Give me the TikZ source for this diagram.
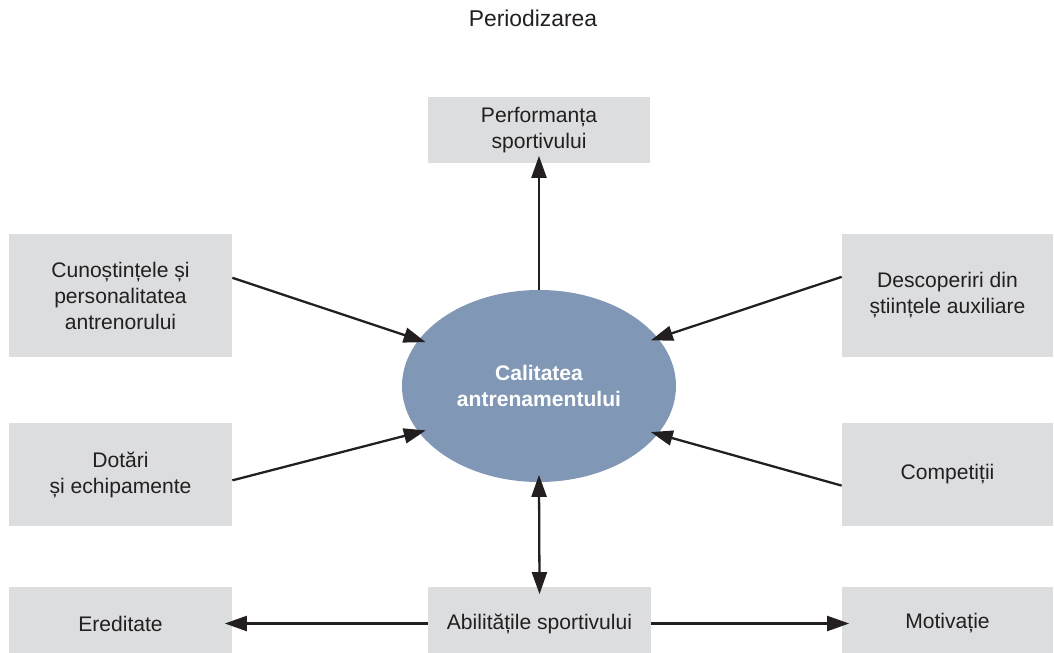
\documentclass[tikz,border=0pt]{standalone}
\usepackage{fontspec}
\setmainfont{Liberation Sans}
\usepackage{xcolor}
\usetikzlibrary{shapes, arrows.meta, positioning, calc}
\definecolor{boxgray}{HTML}{DCDDDF}
\definecolor{ellblue}{HTML}{8197B6}
\definecolor{inkgray}{HTML}{231F20}

\begin{document}
\begin{tikzpicture}[
		box/.style={rectangle, fill=boxgray, text=inkgray, align=center, inner sep=0pt, font=\fontsize{12}{14.8}\selectfont},
		arr/.style={-{Triangle[length=4.4mm, width=3mm]}, line width=1.3pt, draw=inkgray, shorten >=-1.5mm},
		arrboth/.style={{Triangle[length=4.4mm, width=3mm]}-{Triangle[length=4.4mm, width=3mm]}, line width=1.3pt, draw=inkgray, shorten >=-1.5mm, shorten <=-1.5mm},
	]
		\useasboundingbox (0,0) rectangle (21.08,13.04);

		\node[text=inkgray, font=\fontsize{13}{15}\selectfont] (title) at (10.66,12.68) {Periodizarea};

		\node[box, minimum width=4.44cm, minimum height=1.32cm] (perf) at (10.78,10.44) {Performanța\\sportivului};
		\node[ellipse, fill=ellblue, text=white, align=center, inner sep=0pt, minimum width=5.48cm, minimum height=3.84cm, font=\bfseries\fontsize{12}{15.3}\selectfont] (ell) at (10.78,5.32) {Calitatea\\antrenamentului};

		\node[box, minimum width=4.46cm, minimum height=2.46cm] (cun) at (2.41,7.13) {Cunoștințele și\\personalitatea\\antrenorului};
		\node[box, minimum width=4.22cm, minimum height=2.46cm] (desc) at (18.95,7.13) {Descoperiri din\\științele auxiliare};
		\node[box, minimum width=4.46cm, minimum height=2.06cm] (dot) at (2.41,3.55) {Dotări\\și echipamente};
		\node[box, minimum width=4.22cm, minimum height=2.06cm] (comp) at (18.95,3.55) {Competiții};

		% bottom row runs off the lower edge
		\node[box, minimum width=4.46cm, minimum height=1.46cm] (ered) at (2.41,0.57) {Ereditate};
		\node[box, minimum width=4.46cm, minimum height=1.46cm] (abil) at (10.79,0.57) {Abilitățile sportivului};
		\node[box, minimum width=4.22cm, minimum height=1.46cm] (motiv) at (18.95,0.57) {Motivație};

		\draw[arr] (ell.north) to (perf.south);
		\draw[arr] (cun.9) to (ell.159);
		\draw[arr] (desc.170) to (ell.22);
		\draw[arr] (dot.357) to (ell.201);
		\draw[arr] (comp.186) to (ell.338);
		\draw[arrboth] (abil.north) to (ell.south);
		\draw[arr] (abil.west) to (ered.east);
		\draw[arr] (abil.east) to (motiv.west);

	\end{tikzpicture}
\end{document}
